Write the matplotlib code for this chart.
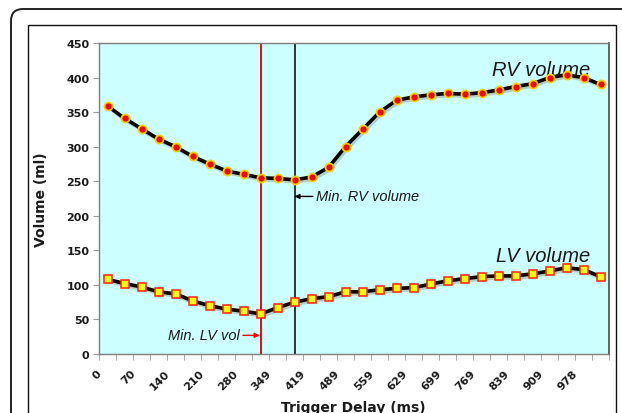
"""Cardiac volume vs trigger delay (RV / LV), Excel-style chart."""
import matplotlib

matplotlib.use("Agg")
import matplotlib.pyplot as plt
import matplotlib.patheffects as pe
import matplotlib.transforms as mtrans
from matplotlib.patches import FancyBboxPatch, Rectangle
import numpy as np

# category labels shown on the x axis (every second delay step)
tick_labels = ["0", "70", "140", "210", "280", "349", "419", "489", "559",
               "629", "699", "769", "839", "909", "978"]

rv_volume = [359, 341, 326, 311, 300, 286, 275, 265, 260, 255,
             254, 252, 256, 270, 300, 325, 350, 367, 372, 375,
             377, 376, 378, 382, 387, 391, 400, 404, 400, 390]

lv_volume = [108, 102, 97, 90, 87, 77, 70, 65, 62, 58,
             67, 75, 80, 83, 90, 90, 93, 95, 96, 101,
             106, 109, 112, 113, 113, 116, 120, 125, 122, 112]

W, H = 622, 414
BG = "#CCFFFF"
TXT = "#1a1a1a"


def main():
    fig = plt.figure(figsize=(W / 100, H / 100), dpi=100)
    # pixel coordinates, origin bottom-left
    px = mtrans.Affine2D().scale(1 / 100) + fig.dpi_scale_trans

    # outer rounded frame + inner frame (both run off the picture)
    fig.patches.append(FancyBboxPatch((11, -40), 700, H - 10 + 40,
                                      boxstyle="round,pad=0,rounding_size=12",
                                      transform=px, fill=False,
                                      ec="#222222", lw=1.4))
    fig.patches.append(Rectangle((28, -10), 616 - 28, H - 26 + 10,
                                 transform=px, fill=False,
                                 ec="#111111", lw=1.0))

    ax = fig.add_axes([99 / W, (H - 355) / H, 510 / W, 311 / H])
    ax.set_facecolor(BG)
    for s in ax.spines.values():
        s.set_color("#7f7f7f")
        s.set_linewidth(1.0)
    ax.spines["right"].set_color("#555555")
    ax.spines["right"].set_linewidth(1.3)

    x = np.arange(len(rv_volume))
    ax.set_xlim(-0.5, len(x) - 0.5)
    ax.set_ylim(0, 450)

    rv_min = int(np.argmin(rv_volume))
    lv_min = int(np.argmin(lv_volume))
    ax.axvline(lv_min, color="#ff0000", lw=1.4, zorder=2)
    ax.axvline(rv_min, color="#000000", lw=1.1, zorder=2)

    shadow = [pe.SimpleLineShadow(offset=(1.2, -1.5), shadow_color="#666666", alpha=0.3),
              pe.Normal()]
    ax.plot(x, rv_volume, color="black", lw=2.6, zorder=3, path_effects=shadow,
            solid_joinstyle="round")
    ax.plot(x, lv_volume, color="black", lw=2.6, zorder=3, path_effects=shadow,
            solid_joinstyle="round")
    ax.plot(x, rv_volume, ls="none", marker="o", ms=5.8, mfc="#ff0000",
            mec="#ffcc00", mew=1.3, zorder=4)
    ax.plot(x, lv_volume, ls="none", marker="s", ms=5.4, mfc="#ffff00",
            mec="#ff2200", mew=1.1, zorder=4)

    # ticks
    ax.set_yticks(np.arange(0, 451, 50))
    ax.set_xticks(np.arange(0, len(x), 2))
    ax.set_xticklabels(tick_labels, rotation=45, ha="right")
    ax.set_xticks(np.arange(-0.5, len(x), 1), minor=True)
    ax.tick_params(axis="x", which="major", length=0, pad=10)
    ax.tick_params(axis="x", which="minor", length=4, color="#999999", direction="out")
    ax.tick_params(axis="y", length=4, color="#999999", direction="out", pad=3)
    shift = mtrans.ScaledTranslation(-4 / 100, 0, fig.dpi_scale_trans)
    for lab in ax.get_xticklabels():
        lab.set_transform(lab.get_transform() + shift)
    for lab in ax.get_xticklabels() + ax.get_yticklabels():
        lab.set_fontweight("bold")
        lab.set_fontsize(8)
        lab.set_color(TXT)
        lab.set_family("DejaVu Sans")

    # axis titles placed in pixel coordinates
    fig.text(353, H - 401, "Trigger Delay (ms)", transform=px, ha="center",
             va="top", fontsize=10, fontweight="bold", color=TXT)
    fig.text(41, H - 200, "Volume (ml)", transform=px, ha="center",
             va="center", rotation=90, fontsize=10, fontweight="bold", color=TXT)

    italic = dict(family="Liberation Sans", style="italic", color=TXT)
    ax.text(0.963, 0.946, "RV volume", transform=ax.transAxes, ha="right",
            va="top", fontsize=14.5, **italic)
    ax.text(0.963, 0.347, "LV volume", transform=ax.transAxes, ha="right",
            va="top", fontsize=14.5, **italic)

    ax.annotate("Min. RV volume", xy=(rv_min, 228), xytext=(rv_min + 1.25, 228),
                va="center", ha="left", fontsize=10.5, **italic,
                arrowprops=dict(arrowstyle="-|>", color="black", lw=1.0,
                                mutation_scale=7, shrinkA=0, shrinkB=0))
    ax.annotate("Min. LV vol", xy=(lv_min - 0.05, 27), xytext=(lv_min - 1.2, 27),
                va="center", ha="right", fontsize=10.5, **italic,
                arrowprops=dict(arrowstyle="-|>", color="#ff0000", lw=1.0,
                                mutation_scale=7, shrinkA=0, shrinkB=0))

    fig.savefig("out.png", dpi=100)
    plt.close(fig)


if __name__ == "__main__":
    main()
